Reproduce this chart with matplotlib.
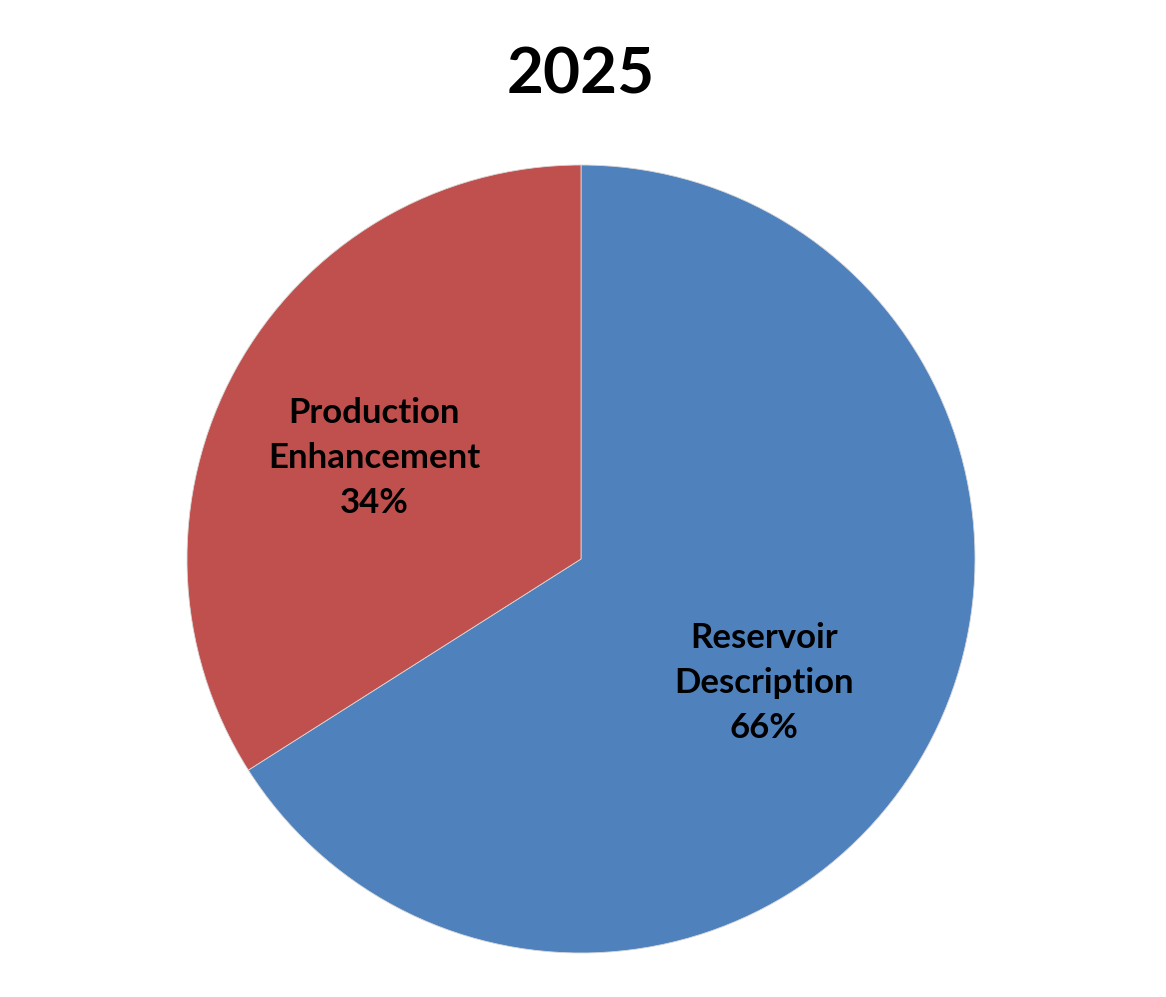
import matplotlib.pyplot as plt

categories = ["Reservoir\nDescription", "Production\nEnhancement"]
shares = [66, 34]
colors = ["#4F81BD", "#C0504D"]
title = "2025"

plt.rcParams['font.family'] = ['Lato', 'DejaVu Sans']

fig = plt.figure(figsize=(11.66, 9.97), dpi=100)
ax = fig.add_axes([187 / 1166, 44 / 997, 788 / 1166, 788 / 997])


def fmt(pct):
    i = 0 if pct > 50 else 1
    return f"{categories[i]}\n{pct:.0f}%"


wedges, texts, autotexts = ax.pie(
    shares, colors=colors, startangle=90, counterclock=False,
    radius=1, autopct=fmt, pctdistance=0.57,
    wedgeprops=dict(edgecolor="#d8d8d8", linewidth=0.6),
    textprops=dict(fontsize=25, fontweight="bold", color="black",
                   linespacing=1.5, ha="center", va="center"))
# nudge labels to where the original sits them
label_pos = [(0.464, -0.315), (-0.525, 0.256)]
for t, p in zip(autotexts, label_pos):
    t.set_position(p)

ax.set_xlim(-1, 1)
ax.set_ylim(-1, 1)
ax.set_aspect("equal")

fig.text(581 / 1166, 1 - 75 / 997, title, fontsize=46, fontweight="bold",
         ha="center", va="center")

fig.savefig("out.png", dpi=100)
